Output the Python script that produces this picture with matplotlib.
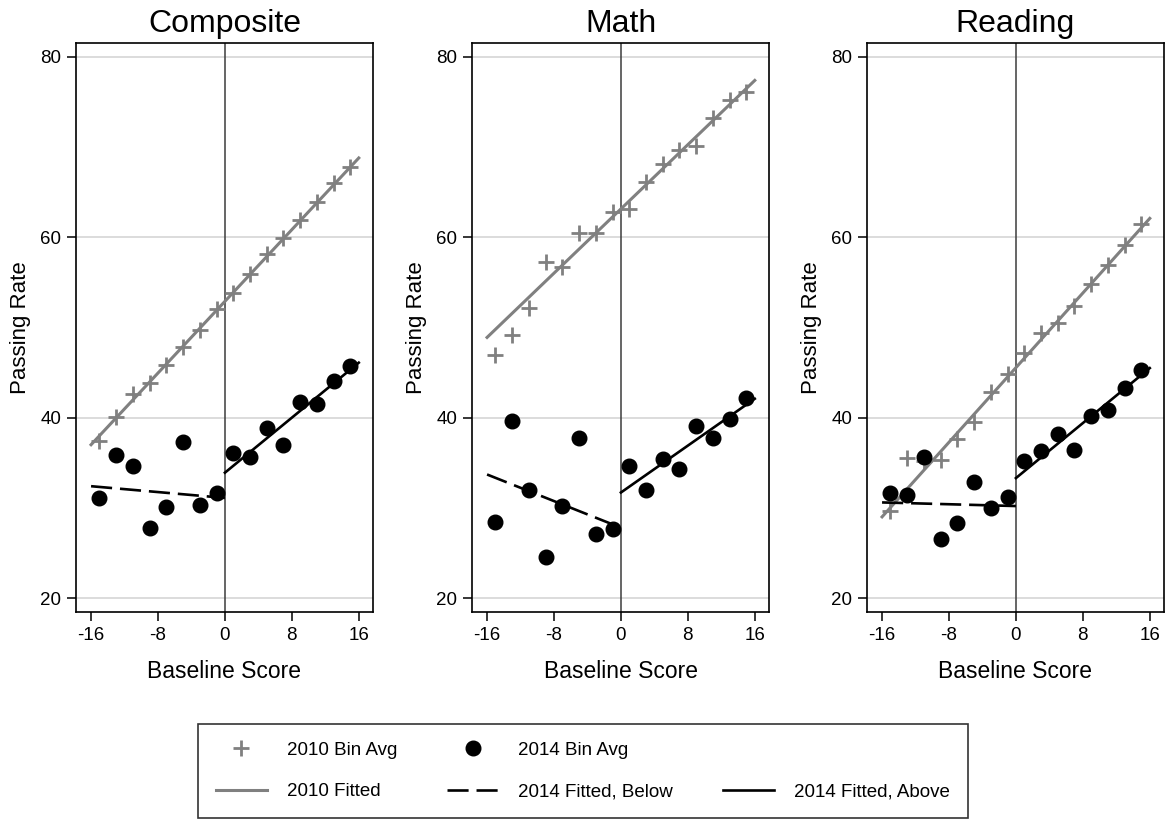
import matplotlib
matplotlib.use("Agg")
import matplotlib.pyplot as plt
from matplotlib.lines import Line2D

plt.rcParams["font.family"] = ["Liberation Sans", "DejaVu Sans"]
plt.rcParams["axes.unicode_minus"] = False

# bin centres of baseline score
BINS = [-15, -13, -11, -9, -7, -5, -3, -1, 1, 3, 5, 7, 9, 11, 13, 15]

SUBJECTS = ["Composite", "Math", "Reading"]

# 2010 bin averages
AVG_2010 = {
    "Composite": [37.4, 40.1, 42.6, 43.9, 45.8, 47.8, 49.7, 52.0,
                  53.8, 55.9, 58.2, 59.9, 61.9, 63.9, 66.0, 67.8],
    "Math":      [47.0, 49.2, 52.2, 57.3, 56.7, 60.5, 60.5, 62.8,
                  63.1, 66.1, 68.1, 69.7, 70.1, 73.2, 75.2, 76.1],
    "Reading":   [29.7, 35.5, 35.2, 35.3, 37.6, 39.5, 42.9, 44.8,
                  47.2, 49.4, 50.5, 52.4, 54.8, 56.9, 59.1, 61.5],
}

# 2014 bin averages
AVG_2014 = {
    "Composite": [31.1, 35.9, 34.6, 27.8, 30.1, 37.3, 30.3, 31.7,
                  36.1, 35.6, 38.8, 37.0, 41.7, 41.5, 44.1, 45.7],
    "Math":      [28.4, 39.6, 32.0, 24.5, 30.2, 37.7, 27.1, 27.7,
                  34.6, 32.0, 35.4, 34.3, 39.1, 37.8, 39.9, 42.2],
    "Reading":   [31.7, 31.4, 35.6, 26.6, 28.3, 32.9, 30.0, 31.2,
                  35.2, 36.3, 38.2, 36.4, 40.2, 40.9, 43.3, 45.3],
}

# fitted lines (endpoints)
FIT_X_ALL = [-16, 16]
FIT_X_BELOW = [-16, 0]
FIT_X_ABOVE = [0, 16]
FIT_2010 = {"Composite": [37.0, 68.8], "Math": [48.9, 77.4], "Reading": [29.0, 62.1]}
FIT_2014_BELOW = {"Composite": [32.4, 31.1], "Math": [33.7, 27.8], "Reading": [30.6, 30.2]}
FIT_2014_ABOVE = {"Composite": [33.9, 46.1], "Math": [31.7, 42.1], "Reading": [33.3, 45.5]}

X_TICKS = [-16, -8, 0, 8, 16]
Y_TICKS = [20, 40, 60, 80]

GRAY = "#808080"
W, H = 1166, 821

fig = plt.figure(figsize=(W / 100, H / 100), dpi=100)

lefts = [76, 472, 867]
for left, name in zip(lefts, SUBJECTS):
    ax = fig.add_axes([left / W, (H - 612) / H, 297 / W, (612 - 43) / H])
    for y in Y_TICKS:
        ax.axhline(y, color="#dcdcdc", lw=1.4, zorder=0)
    ax.axvline(0, color="#3c3c3c", lw=1.1, zorder=1)

    ax.plot(FIT_X_ALL, FIT_2010[name], color=GRAY, lw=2.2, zorder=2)
    ax.plot(BINS, AVG_2010[name], linestyle="none", marker="+", ms=12,
            mew=2.0, color=GRAY, zorder=3)
    ax.plot(FIT_X_BELOW, FIT_2014_BELOW[name], color="black", lw=1.9,
            dashes=(8, 3), zorder=4)
    ax.plot(FIT_X_ABOVE, FIT_2014_ABOVE[name], color="black", lw=1.9, zorder=4)
    ax.plot(BINS, AVG_2014[name], linestyle="none", marker="o", ms=10.5,
            color="black", zorder=5)

    ax.set_xlim(-17.8, 17.7)
    ax.set_ylim(18.45, 81.55)
    ax.set_xticks(X_TICKS)
    ax.set_yticks(Y_TICKS)
    ax.tick_params(labelsize=13.5, length=6.5, width=1.1, pad=4)
    for sp in ax.spines.values():
        sp.set_linewidth(1.2)
    ax.set_title(name, fontsize=23, pad=8)
    ax.set_xlabel("Baseline Score", fontsize=16.5, labelpad=12)
    ax.set_ylabel("Passing Rate", fontsize=16, labelpad=7)

handles = [
    Line2D([], [], linestyle="none", marker="+", ms=12, mew=2.0, color=GRAY),
    Line2D([], [], color=GRAY, lw=2.2),
    Line2D([], [], linestyle="none", marker="o", ms=10.5, color="black"),
    Line2D([], [], color="black", lw=1.9, dashes=(8, 3)),
    Line2D([], [], linestyle="none"),
    Line2D([], [], color="black", lw=1.9),
]
labels = ["2010 Bin Avg", "2010 Fitted", "2014 Bin Avg",
          "2014 Fitted, Below", "", "2014 Fitted, Above"]
leg = fig.legend(handles, labels, ncol=3, loc="center",
                 bbox_to_anchor=(0.5, 1 - 771 / H), fontsize=13.5,
                 frameon=True, fancybox=False, edgecolor="black",
                 handlelength=2.7, handletextpad=1.1, columnspacing=2.65,
                 labelspacing=1.3, borderpad=0.95, numpoints=1)
leg.get_frame().set_linewidth(1.2)

fig.savefig("out.png", dpi=100)
